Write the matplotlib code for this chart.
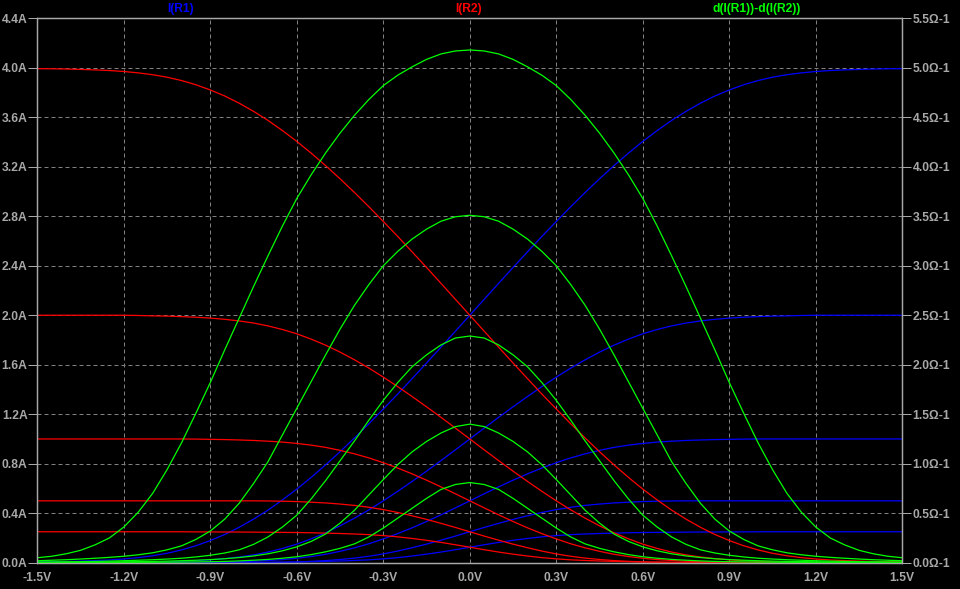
import matplotlib.pyplot as plt

# sweep of the input voltage (V), 50 mV steps
vin = [-1.5, -1.45, -1.4, -1.35, -1.3, -1.25, -1.2, -1.15, -1.1, -1.05,
       -1.0, -0.95, -0.9, -0.85, -0.8, -0.75, -0.7, -0.65, -0.6, -0.55,
       -0.5, -0.45, -0.4, -0.35, -0.3, -0.25, -0.2, -0.15, -0.1, -0.05,
       0.0, 0.05, 0.1, 0.15, 0.2, 0.25, 0.3, 0.35, 0.4, 0.45,
       0.5, 0.55, 0.6, 0.65, 0.7, 0.75, 0.8, 0.85, 0.9, 0.95,
       1.0, 1.05, 1.1, 1.15, 1.2, 1.25, 1.3, 1.35, 1.4, 1.45, 1.5]

# I(R1) in A, one list per tail current step (4, 2, 1, 0.5, 0.25 A)
i_r1_4 = [0.007, 0.008, 0.010, 0.013, 0.017, 0.022, 0.030, 0.041, 0.056, 0.076,
          0.103, 0.137, 0.179, 0.228, 0.286, 0.352, 0.425, 0.507, 0.595, 0.690,
          0.791, 0.897, 1.008, 1.123, 1.242, 1.363, 1.488, 1.614, 1.742, 1.871,
          2.0, 2.129, 2.258, 2.386, 2.512, 2.637, 2.758, 2.877, 2.992, 3.103,
          3.209, 3.310, 3.405, 3.493, 3.575, 3.648, 3.714, 3.772, 3.821, 3.863,
          3.897, 3.924, 3.944, 3.959, 3.970, 3.978, 3.983, 3.987, 3.990, 3.992, 3.993]
i_r1_2 = [0.0, 0.0, 0.0, 0.0, 0.0, 0.0, 0.0, 0.002, 0.005, 0.007,
          0.011, 0.016, 0.023, 0.033, 0.046, 0.063, 0.086, 0.115, 0.150, 0.193,
          0.242, 0.298, 0.360, 0.427, 0.500, 0.577, 0.657, 0.740, 0.825, 0.912,
          1.0, 1.088, 1.175, 1.260, 1.343, 1.423, 1.500, 1.573, 1.640, 1.702,
          1.758, 1.807, 1.850, 1.885, 1.914, 1.937, 1.954, 1.967, 1.977, 1.984,
          1.989, 1.993, 1.995, 1.998, 2.0, 2.0, 2.0, 2.0, 2.0, 2.0, 2.0]
i_r1_1 = [0.0, 0.0, 0.0, 0.0, 0.0, 0.0, 0.0, 0.0, 0.0, 0.0,
          0.0, 0.001, 0.003, 0.005, 0.008, 0.012, 0.018, 0.025, 0.036, 0.050,
          0.068, 0.092, 0.120, 0.153, 0.192, 0.235, 0.282, 0.333, 0.387, 0.443,
          0.5, 0.557, 0.613, 0.667, 0.718, 0.765, 0.808, 0.847, 0.880, 0.908,
          0.932, 0.950, 0.964, 0.975, 0.982, 0.988, 0.992, 0.995, 0.997, 0.999,
          1.0, 1.0, 1.0, 1.0, 1.0, 1.0, 1.0, 1.0, 1.0, 1.0, 1.0]
i_r1_05 = [0.0, 0.0, 0.0, 0.0, 0.0, 0.0, 0.0, 0.0, 0.0, 0.0,
           0.0, 0.0, 0.0, 0.0, 0.0, 0.0, 0.001, 0.003, 0.006, 0.011,
           0.017, 0.026, 0.037, 0.052, 0.071, 0.094, 0.121, 0.150, 0.182, 0.215,
           0.25, 0.285, 0.318, 0.350, 0.379, 0.406, 0.429, 0.448, 0.463, 0.474,
           0.483, 0.489, 0.494, 0.497, 0.499, 0.5, 0.5, 0.5, 0.5, 0.5,
           0.5, 0.5, 0.5, 0.5, 0.5, 0.5, 0.5, 0.5, 0.5, 0.5, 0.5]
i_r1_025 = [0.0, 0.0, 0.0, 0.0, 0.0, 0.0, 0.0, 0.0, 0.0, 0.0,
            0.0, 0.001, 0.001, 0.002, 0.002, 0.003, 0.004, 0.005, 0.006, 0.008,
            0.011, 0.014, 0.018, 0.023, 0.031, 0.041, 0.054, 0.069, 0.086, 0.105,
            0.125, 0.145, 0.164, 0.181, 0.196, 0.209, 0.219, 0.227, 0.232, 0.236,
            0.239, 0.242, 0.244, 0.245, 0.246, 0.247, 0.248, 0.248, 0.249, 0.249,
            0.25, 0.25, 0.25, 0.25, 0.25, 0.25, 0.25, 0.25, 0.25, 0.25, 0.25]

# I(R2) in A
i_r2_4 = [3.993, 3.992, 3.990, 3.987, 3.983, 3.978, 3.970, 3.959, 3.944, 3.924,
          3.897, 3.863, 3.821, 3.772, 3.714, 3.648, 3.575, 3.493, 3.405, 3.310,
          3.209, 3.103, 2.992, 2.877, 2.758, 2.637, 2.512, 2.386, 2.258, 2.129,
          2.0, 1.871, 1.742, 1.614, 1.488, 1.363, 1.242, 1.123, 1.008, 0.897,
          0.791, 0.690, 0.595, 0.507, 0.425, 0.352, 0.286, 0.228, 0.179, 0.137,
          0.103, 0.076, 0.056, 0.041, 0.030, 0.022, 0.017, 0.013, 0.010, 0.008, 0.007]
i_r2_2 = [2.0, 2.0, 2.0, 2.0, 2.0, 2.0, 2.0, 1.998, 1.995, 1.993,
          1.989, 1.984, 1.977, 1.967, 1.954, 1.937, 1.914, 1.885, 1.850, 1.807,
          1.758, 1.702, 1.640, 1.573, 1.500, 1.423, 1.343, 1.260, 1.175, 1.088,
          1.0, 0.912, 0.825, 0.740, 0.657, 0.577, 0.500, 0.427, 0.360, 0.298,
          0.242, 0.193, 0.150, 0.115, 0.086, 0.063, 0.046, 0.033, 0.023, 0.016,
          0.011, 0.007, 0.005, 0.002, 0.0, 0.0, 0.0, 0.0, 0.0, 0.0, 0.0]
i_r2_1 = [1.0, 1.0, 1.0, 1.0, 1.0, 1.0, 1.0, 1.0, 1.0, 1.0,
          1.0, 0.999, 0.997, 0.995, 0.992, 0.988, 0.982, 0.975, 0.964, 0.950,
          0.932, 0.908, 0.880, 0.847, 0.808, 0.765, 0.718, 0.667, 0.613, 0.557,
          0.5, 0.443, 0.387, 0.333, 0.282, 0.235, 0.192, 0.153, 0.120, 0.092,
          0.068, 0.050, 0.036, 0.025, 0.018, 0.012, 0.008, 0.005, 0.003, 0.001,
          0.0, 0.0, 0.0, 0.0, 0.0, 0.0, 0.0, 0.0, 0.0, 0.0, 0.0]
i_r2_05 = [0.5, 0.5, 0.5, 0.5, 0.5, 0.5, 0.5, 0.5, 0.5, 0.5,
           0.5, 0.5, 0.5, 0.5, 0.5, 0.5, 0.499, 0.497, 0.494, 0.489,
           0.483, 0.474, 0.463, 0.448, 0.429, 0.406, 0.379, 0.350, 0.318, 0.285,
           0.25, 0.215, 0.182, 0.150, 0.121, 0.094, 0.071, 0.052, 0.037, 0.026,
           0.017, 0.011, 0.006, 0.003, 0.001, 0.0, 0.0, 0.0, 0.0, 0.0,
           0.0, 0.0, 0.0, 0.0, 0.0, 0.0, 0.0, 0.0, 0.0, 0.0, 0.0]
i_r2_025 = [0.25, 0.25, 0.25, 0.25, 0.25, 0.25, 0.25, 0.25, 0.25, 0.25,
            0.25, 0.249, 0.249, 0.248, 0.248, 0.247, 0.246, 0.245, 0.244, 0.242,
            0.239, 0.236, 0.232, 0.227, 0.219, 0.209, 0.196, 0.181, 0.164, 0.145,
            0.125, 0.105, 0.086, 0.069, 0.054, 0.041, 0.031, 0.023, 0.018, 0.014,
            0.011, 0.008, 0.006, 0.005, 0.004, 0.003, 0.002, 0.002, 0.001, 0.001,
            0.0, 0.0, 0.0, 0.0, 0.0, 0.0, 0.0, 0.0, 0.0, 0.0, 0.0]

# d(I(R1))-d(I(R2)) in 1/ohm
g_4 = [0.05, 0.065, 0.09, 0.125, 0.18, 0.25, 0.36, 0.51, 0.70, 0.94,
       1.21, 1.51, 1.82, 2.15, 2.47, 2.79, 3.10, 3.40, 3.68, 3.92,
       4.14, 4.34, 4.52, 4.68, 4.82, 4.925, 5.01, 5.085, 5.14, 5.17,
       5.18, 5.17, 5.14, 5.085, 5.01, 4.925, 4.82, 4.68, 4.52, 4.34,
       4.14, 3.92, 3.68, 3.40, 3.10, 2.79, 2.47, 2.15, 1.82, 1.51,
       1.21, 0.94, 0.70, 0.51, 0.36, 0.25, 0.18, 0.125, 0.09, 0.065, 0.05]
g_2 = [0.02, 0.025, 0.03, 0.037, 0.045, 0.054, 0.065, 0.08, 0.10, 0.13,
       0.17, 0.235, 0.32, 0.44, 0.60, 0.80, 1.02, 1.29, 1.56, 1.83,
       2.10, 2.36, 2.60, 2.81, 3.0, 3.145, 3.27, 3.37, 3.45, 3.495,
       3.51, 3.495, 3.45, 3.37, 3.27, 3.145, 3.0, 2.81, 2.60, 2.36,
       2.10, 1.83, 1.56, 1.29, 1.02, 0.80, 0.60, 0.44, 0.32, 0.235,
       0.17, 0.13, 0.10, 0.08, 0.065, 0.054, 0.045, 0.037, 0.03, 0.025, 0.02]
g_1 = [0.006, 0.007, 0.009, 0.011, 0.013, 0.016, 0.02, 0.025, 0.03, 0.037,
       0.045, 0.058, 0.075, 0.098, 0.13, 0.185, 0.26, 0.36, 0.48, 0.645,
       0.83, 1.03, 1.23, 1.44, 1.64, 1.82, 1.98, 2.10, 2.20, 2.27,
       2.29, 2.27, 2.20, 2.10, 1.98, 1.82, 1.64, 1.44, 1.23, 1.03,
       0.83, 0.645, 0.48, 0.36, 0.26, 0.185, 0.13, 0.098, 0.075, 0.058,
       0.045, 0.037, 0.03, 0.025, 0.02, 0.016, 0.013, 0.011, 0.009, 0.007, 0.006]
g_05 = [0.003, 0.0035, 0.004, 0.005, 0.006, 0.0075, 0.009, 0.011, 0.013, 0.016,
        0.02, 0.025, 0.031, 0.04, 0.052, 0.068, 0.09, 0.12, 0.16, 0.215,
        0.29, 0.40, 0.53, 0.685, 0.84, 0.99, 1.12, 1.225, 1.31, 1.375,
        1.40, 1.375, 1.31, 1.225, 1.12, 0.99, 0.84, 0.685, 0.53, 0.40,
        0.29, 0.215, 0.16, 0.12, 0.09, 0.068, 0.052, 0.04, 0.031, 0.025,
        0.02, 0.016, 0.013, 0.011, 0.009, 0.0075, 0.006, 0.005, 0.004, 0.0035, 0.003]
g_025 = [0.001, 0.001, 0.001, 0.0015, 0.002, 0.0025, 0.003, 0.0035, 0.004, 0.005,
         0.006, 0.008, 0.01, 0.013, 0.018, 0.025, 0.033, 0.045, 0.06, 0.082,
         0.11, 0.145, 0.19, 0.26, 0.35, 0.45, 0.55, 0.65, 0.74, 0.79,
         0.81, 0.79, 0.74, 0.65, 0.55, 0.45, 0.35, 0.26, 0.19, 0.145,
         0.11, 0.082, 0.06, 0.045, 0.033, 0.025, 0.018, 0.013, 0.01, 0.008,
         0.006, 0.005, 0.004, 0.0035, 0.003, 0.0025, 0.002, 0.0015, 0.001, 0.001, 0.001]

x_ticks = [-1.5, -1.2, -0.9, -0.6, -0.3, 0.0, 0.3, 0.6, 0.9, 1.2, 1.5]
a_ticks = [0.0, 0.4, 0.8, 1.2, 1.6, 2.0, 2.4, 2.8, 3.2, 3.6, 4.0, 4.4]
g_ticks = [0.0, 0.5, 1.0, 1.5, 2.0, 2.5, 3.0, 3.5, 4.0, 4.5, 5.0, 5.5]

fg = '#a8a8a8'
font = {'family': 'Liberation Sans', 'weight': 'bold', 'size': 8.7}
lw = 0.9

fig = plt.figure(figsize=(9.6, 5.89), dpi=100, facecolor='black')
ax = fig.add_axes([37.3 / 960, (589 - 562.7) / 589, 865 / 960, 544.4 / 589])
ax.set_facecolor('black')
ax.set_axisbelow(True)

for s in [i_r1_4, i_r1_2, i_r1_1, i_r1_05, i_r1_025]:
    ax.plot(vin, s, color='#0000ff', lw=lw)
for s in [i_r2_4, i_r2_2, i_r2_1, i_r2_05, i_r2_025]:
    ax.plot(vin, s, color='#ff0000', lw=lw)

ax.set_xlim(-1.5, 1.5)
ax.set_ylim(0, 4.4)
ax.set_xticks(x_ticks)
ax.set_xticklabels(['%.1fV' % t if t != 0 else '0.0V' for t in x_ticks], fontdict=font)
ax.set_yticks(a_ticks)
ax.set_yticklabels(['%.1fA' % t for t in a_ticks], fontdict=font)
ax.grid(True, color='#808080', lw=0.72, linestyle=(0, (4, 3)))
ax.tick_params(axis='y', colors=fg, length=6.5, width=0.72, pad=0.5)
ax.tick_params(axis='x', colors=fg, length=0, pad=7)
for sp in ax.spines.values():
    sp.set_color(fg)
    sp.set_linewidth(0.9)

ax2 = ax.twinx()
for s in [g_4, g_2, g_1, g_05, g_025]:
    ax2.plot(vin, s, color='#00ff00', lw=lw)
ax2.set_ylim(0, 5.5)
ax2.set_yticks(g_ticks)
ax2.set_yticklabels(['%.1f\u03a9-1' % t for t in g_ticks], fontdict=font)
ax2.tick_params(axis='y', colors=fg, length=6.5, width=0.72, pad=1)
for sp in ax2.spines.values():
    sp.set_color(fg)
    sp.set_linewidth(0.9)

fig.text(181 / 960, 1 - 9 / 589, 'I(R1)', color='#0000ff', ha='center', va='center', fontdict=font)
fig.text(469 / 960, 1 - 9 / 589, 'I(R2)', color='#ff0000', ha='center', va='center', fontdict=font)
fig.text(757 / 960, 1 - 9 / 589, 'd(I(R1))-d(I(R2))', color='#00ff00', ha='center', va='center', fontdict=font)

fig.savefig('out.png', dpi=100, facecolor='black')
